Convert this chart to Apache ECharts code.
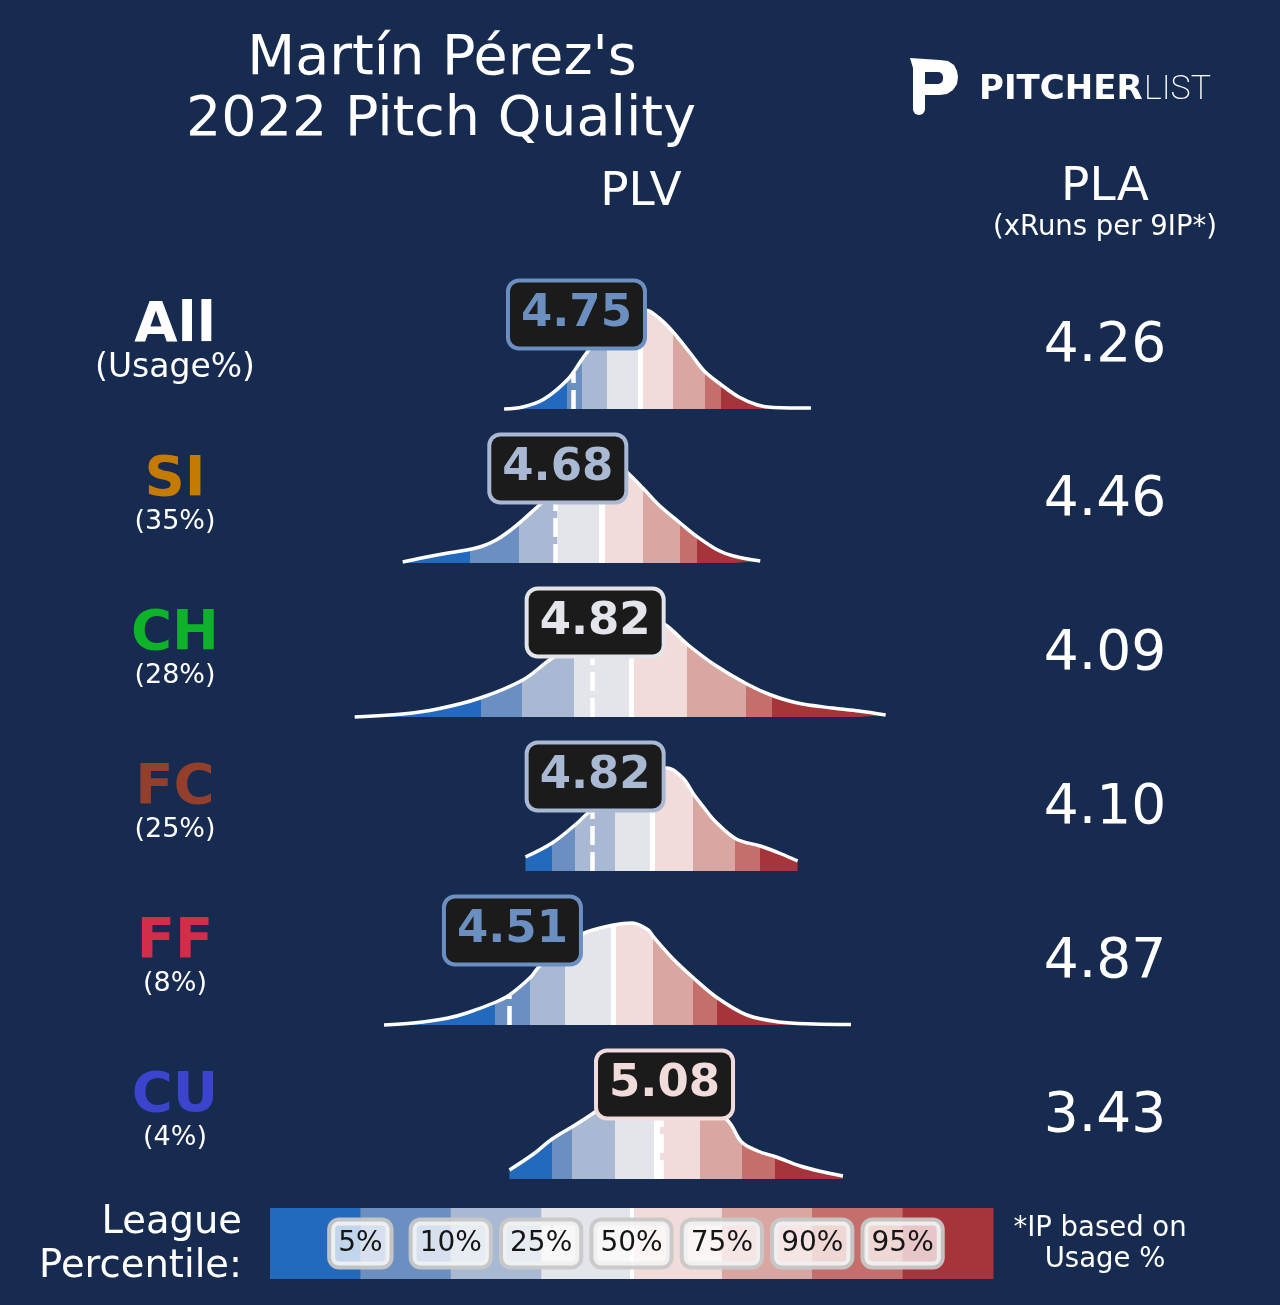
<!DOCTYPE html>
<html>
<head>
<meta charset="utf-8">
<title>Martín Pérez's 2022 Pitch Quality</title>
<script src="https://cdn.jsdelivr.net/npm/echarts@6/dist/echarts.min.js"></script>
<style>
html, body { margin: 0; padding: 0; background: #172a4f; }
#chart_wrap { width: 1280px; height: 1305px; }
</style>
</head>
<body>
<div id="chart_wrap"></div>
<script>
// rows, top to bottom
var pitchNames = ['All', 'SI', 'CH', 'FC', 'FF', 'CU'];
var usageLabels = ['(Usage%)', '(35%)', '(28%)', '(25%)', '(8%)', '(4%)'];
var pitchColors = ['#ffffff', '#c57a02', '#0db42a', '#933f2c', '#d22d49', '#3c44cd'];
var plvValues = [4.75, 4.68, 4.82, 4.82, 4.51, 5.08];
var plaValues = ['4.26', '4.46', '4.09', '4.10', '4.87', '3.43'];

// league cut points for 5/10/25/50/75/90/95 percentile, PLV scale
var pctAll = [4.726, 4.783, 4.876, 5.000, 5.123, 5.243, 5.303];
var pctSI  = [4.363, 4.547, 4.689, 4.857, 5.011, 5.150, 5.213];
var pctCH  = [4.404, 4.558, 4.753, 4.966, 5.176, 5.397, 5.494];
var pctFC  = [4.670, 4.756, 4.906, 5.045, 5.198, 5.356, 5.449];
var pctFF  = [4.457, 4.588, 4.719, 4.899, 5.048, 5.198, 5.288];
var pctCU  = [4.670, 4.745, 4.906, 5.063, 5.224, 5.382, 5.505];

// density curves: [PLV, relative density]
var densAll = [[4.49,0.0],[4.56,0.02],[4.64,0.10],[4.73,0.30],[4.78,0.49],[4.81,0.60],[4.86,0.77],
    [4.92,0.90],[4.98,0.98],[5.02,0.99],[5.07,0.91],[5.12,0.78],[5.19,0.55],[5.24,0.38],[5.30,0.25],
    [5.37,0.12],[5.44,0.04],[5.50,0.015],[5.64,0.01]];
var densSI = [[4.11,0.01],[4.18,0.05],[4.28,0.10],[4.35,0.13],[4.41,0.17],[4.46,0.23],[4.51,0.32],
    [4.56,0.43],[4.61,0.55],[4.67,0.69],[4.74,0.83],[4.81,0.94],[4.87,1.0],[4.92,0.97],[4.95,0.91],
    [5.01,0.75],[5.07,0.58],[5.15,0.40],[5.21,0.27],[5.29,0.13],[5.35,0.07],[5.45,0.02]];
var densCH = [[3.93,0.0],[4.11,0.03],[4.24,0.08],[4.40,0.19],[4.56,0.37],[4.66,0.57],[4.72,0.67],
    [4.79,0.80],[4.86,0.90],[4.94,0.97],[5.01,1.0],[5.09,0.93],[5.18,0.72],[5.28,0.52],[5.40,0.33],
    [5.49,0.22],[5.59,0.14],[5.72,0.09],[5.82,0.06],[5.92,0.02]];
var densFC = [[4.57,0.14],[4.67,0.28],[4.76,0.47],[4.80,0.57],[4.87,0.72],[4.94,0.86],[5.01,0.96],
    [5.07,1.02],[5.10,1.03],[5.16,0.93],[5.20,0.77],[5.24,0.63],[5.28,0.50],[5.36,0.32],[5.45,0.25],
    [5.53,0.17],[5.59,0.10]];
var densFF = [[4.04,0.0],[4.15,0.02],[4.28,0.07],[4.35,0.12],[4.46,0.23],[4.51,0.30],[4.59,0.48],
    [4.62,0.58],[4.68,0.72],[4.74,0.84],[4.80,0.93],[4.90,1.0],[4.97,1.02],[5.03,0.95],[5.05,0.88],
    [5.12,0.67],[5.20,0.47],[5.29,0.27],[5.40,0.10],[5.52,0.03],[5.65,0.01],[5.79,0.005]];
var densCU = [[4.51,0.09],[4.60,0.25],[4.67,0.40],[4.75,0.53],[4.82,0.65],[4.91,0.82],[4.98,0.94],
    [5.06,1.0],[5.13,0.95],[5.22,0.80],[5.33,0.58],[5.38,0.37],[5.44,0.28],[5.51,0.22],[5.60,0.13],
    [5.67,0.08],[5.76,0.03]];

var bandColors = ['#2369bd', '#6b8fc0', '#a9b9d3', '#e4e5ea', '#f2dcdb', '#d9a6a2', '#c46f6b', '#a6353b'];
var legendLabels = ['5%', '10%', '25%', '50%', '75%', '90%', '95%'];

var pctList = [pctAll, pctSI, pctCH, pctFC, pctFF, pctCU];
var densList = [densAll, densSI, densCH, densFC, densFF, densCU];

var bg = '#172a4f';
var font = '"DejaVu Sans", sans-serif';

// height of a curve at v (straight line between points)
function heightAt(curve, v) {
    for (var i = 0; i < curve.length - 1; i++) {
        var a = curve[i], b = curve[i + 1];
        if (v >= a[0] && v <= b[0]) {
            return a[1] + (b[1] - a[1]) * (v - a[0]) / (b[0] - a[0]);
        }
    }
    return 0;
}

// which percentile band a value falls in
function bandOf(pct, v) {
    var k = 0;
    while (k < pct.length && v >= pct[k]) k++;
    return k;
}

// piecewise colours along x, with a thin white cut at the median
function piecesFor(pct) {
    var w = 0.0095;
    var cuts = [pct[0], pct[1], pct[2], pct[3] - w, pct[3] + w, pct[4], pct[5], pct[6]];
    var colors = [bandColors[0], bandColors[1], bandColors[2], bandColors[3], '#ffffff',
                  bandColors[4], bandColors[5], bandColors[6], bandColors[7]];
    var res = [{lt: cuts[0], color: colors[0]}];
    for (var k = 1; k < cuts.length; k++) {
        res.push({gte: cuts[k - 1], lt: cuts[k], color: colors[k]});
    }
    res.push({gte: cuts[cuts.length - 1], color: colors[colors.length - 1]});
    return res;
}

// y is where the middle of the capitals should sit
function txt(x, y, text, size, color, weight, align) {
    return {
        type: 'text', x: x, y: y + Math.round(size * 0.075), silent: true,
        style: {
            text: text, fill: color,
            font: (weight || 'normal') + ' ' + size + 'px ' + font,
            align: align || 'center', verticalAlign: 'middle',
            textAlign: align || 'center', textVerticalAlign: 'middle'
        }
    };
}

var chart = echarts.init(document.getElementById('chart_wrap'));

var grids = [], xAxes = [], yAxes = [], series = [], visualMaps = [];
var graphics = [];

for (var i = 0; i < pitchNames.length; i++) {
    var base = 409 + 154 * i;
    var pct = pctList[i], dens = densList[i], v = plvValues[i];
    var boxColor = bandColors[bandOf(pct, v)];

    grids.push({left: 320, width: 587, top: base - 140, height: 140});
    xAxes.push({type: 'value', gridIndex: i, min: 3.8, max: 6.0, show: false});
    yAxes.push({type: 'value', gridIndex: i, min: 0, max: 1.4, show: false});
    visualMaps.push({
        type: 'piecewise', show: false, seriesIndex: i, dimension: 0,
        pieces: piecesFor(pct)
    });
    series.push({
        type: 'line',
        xAxisIndex: i, yAxisIndex: i,
        data: dens,
        smooth: 0.35,
        showSymbol: false,
        clip: false,
        silent: true,
        lineStyle: {color: '#ffffff', width: 3.5},
        areaStyle: {opacity: 1},
        markLine: {
            silent: true,
            symbol: ['none', 'none'],
            label: {show: false},
            lineStyle: {color: '#ffffff', width: 4.5, type: [19, 7]},
            data: [[{coord: [v, 0]}, {coord: [v, heightAt(dens, v) * 0.97]}]]
        },
        markPoint: {
            z: 10,
            silent: true,
            symbol: 'rect',
            symbolSize: 1,
            itemStyle: {color: 'rgba(0,0,0,0)'},
            label: {
                show: true,
                position: 'inside',
                offset: [3, 2],
                formatter: v.toFixed(2),
                fontFamily: font,
                fontSize: 45,
                fontWeight: 'bold',
                lineHeight: 44,
                color: boxColor,
                textBorderWidth: 0,
                backgroundColor: '#1b1b1b',
                borderColor: boxColor,
                borderWidth: 4,
                borderRadius: 9,
                padding: [10, 11]
            },
            data: [{coord: [v, 0.965], value: v}]
        }
    });

    graphics.push(txt(175, base - 87, pitchNames[i], 56, pitchColors[i], 'bold'));
    graphics.push(txt(175, base - 43, usageLabels[i], i === 0 ? 33 : 27, '#ffffff'));
    graphics.push(txt(1105, base - 66, plaValues[i], 55, '#ffffff'));
}

// legend strip
var lg = pitchNames.length;
grids.push({left: 270, width: 723, top: 1208, height: 71});
xAxes.push({type: 'value', gridIndex: lg, min: 0, max: 8, show: false});
yAxes.push({type: 'value', gridIndex: lg, min: 0, max: 1, show: false});
series.push({
    type: 'custom',
    xAxisIndex: lg, yAxisIndex: lg,
    silent: true,
    data: bandColors.map(function (c, k) { return [k, 1]; }),
    renderItem: function (params, api) {
        var k = api.value(0);
        var p0 = api.coord([k, 1]);
        var p1 = api.coord([k + 1, 0]);
        return {
            type: 'rect',
            shape: {x: p0[0], y: p0[1], width: p1[0] - p0[0] + 0.5, height: p1[1] - p0[1]},
            style: {fill: bandColors[k]}
        };
    },
    markLine: {
        silent: true,
        symbol: ['none', 'none'],
        label: {show: false},
        lineStyle: {color: '#ffffff', width: 4, type: 'solid'},
        data: [{xAxis: 4}]
    }
});
// percentile tags sit on the band edges
series.push({
    type: 'custom',
    xAxisIndex: lg, yAxisIndex: lg,
    silent: true,
    z: 6,
    data: legendLabels.map(function (t, k) { return [k + 1, 0.5]; }),
    renderItem: function (params, api) {
        var p = api.coord([api.value(0), api.value(1)]);
        return {
            type: 'text',
            x: p[0], y: p[1],
            style: {
                text: legendLabels[params.dataIndex],
                fill: '#151515',
                font: '28px ' + font,
                align: 'center', verticalAlign: 'middle',
                lineHeight: 30,
                backgroundColor: 'rgba(255,255,255,0.72)',
                borderColor: 'rgba(200,200,200,0.95)',
                borderWidth: 4,
                borderRadius: 8,
                padding: [7, 7]
            }
        };
    }
});

// titles and notes
graphics.push(txt(442, 56, 'Martín Pérez\'s', 55.5, '#ffffff'));
graphics.push(txt(441, 117, '2022 Pitch Quality', 55.5, '#ffffff'));
graphics.push(txt(641, 189, 'PLV', 47, '#ffffff'));
graphics.push(txt(1105, 184, 'PLA', 47, '#ffffff'));
graphics.push(txt(1105, 226, '(xRuns per 9IP*)', 27.5, '#ffffff'));
graphics.push(txt(242, 1220, 'League', 38.5, '#ffffff', 'normal', 'right'));
graphics.push(txt(242, 1264, 'Percentile:', 38.5, '#ffffff', 'normal', 'right'));
graphics.push(txt(1100, 1227, '*IP based on', 27.5, '#ffffff'));
graphics.push(txt(1105, 1258, 'Usage %', 27.5, '#ffffff'));

// logo: P mark
graphics.push({
    type: 'polygon', x: 910, y: 58, silent: true,
    shape: {points: [[0, 0], [30, 2], [38, 3], [44, 7], [47, 13], [48, 19], [47, 26], [43, 32],
                     [37, 36], [30, 37], [15, 37], [3, 37], [3, 10]]},
    style: {fill: '#ffffff'}
});
graphics.push({
    type: 'rect', x: 910, y: 58, silent: true,
    shape: {x: 3, y: 30, width: 12, height: 27, r: [0, 0, 6, 6]},
    style: {fill: '#ffffff'}
});
graphics.push({
    type: 'rect', x: 910, y: 58, silent: true,
    shape: {x: 15, y: 14, width: 18, height: 12, r: [0, 5, 5, 0]},
    style: {fill: bg}
});
graphics.push({
    type: 'text', x: 979, y: 90, silent: true,
    style: {text: 'PITCHER', fill: '#ffffff', font: 'bold 34px ' + font,
            align: 'left', verticalAlign: 'middle', textAlign: 'left', textVerticalAlign: 'middle'}
});
graphics.push({
    type: 'text', x: 1211, y: 90, silent: true,
    style: {text: 'LIST', fill: '#ffffff', font: '200 34px Roboto, "Open Sans", sans-serif',
            align: 'right', verticalAlign: 'middle', textAlign: 'right', textVerticalAlign: 'middle'}
});

var option = {
    backgroundColor: bg,
    animation: false,
    grid: grids,
    xAxis: xAxes,
    yAxis: yAxes,
    visualMap: visualMaps,
    series: series,
    graphic: {elements: graphics}
};

chart.setOption(option, true);
</script>
</body>
</html>
